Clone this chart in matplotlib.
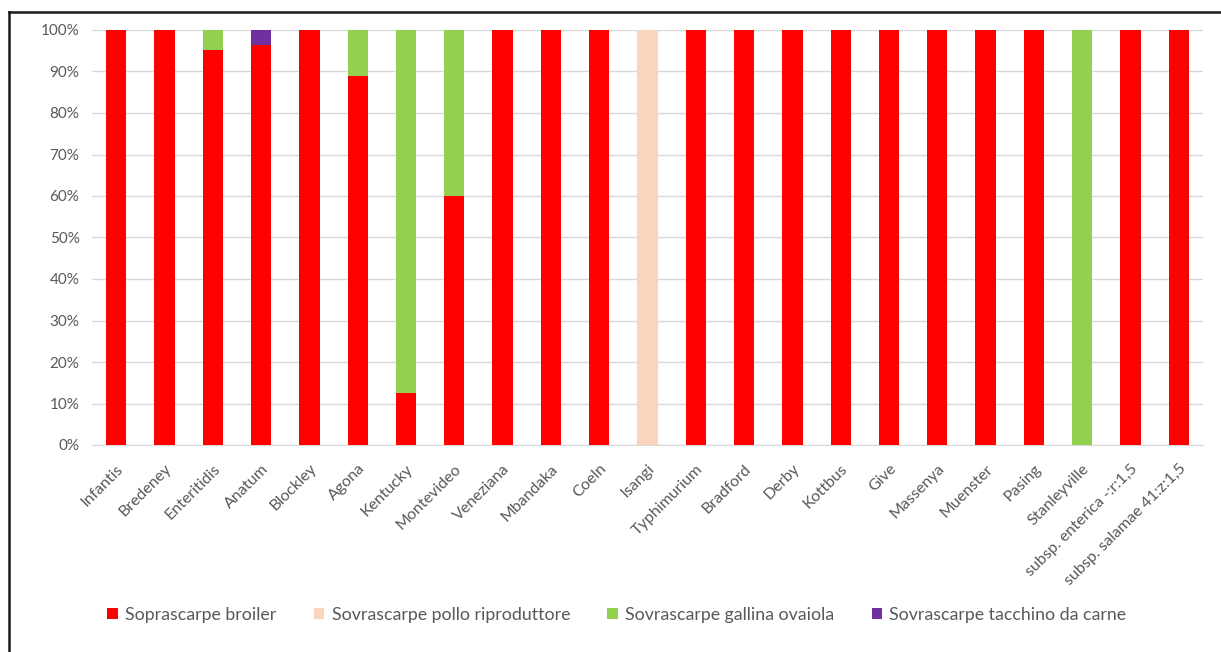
import matplotlib
matplotlib.use("Agg")
import matplotlib.pyplot as plt
from matplotlib.lines import Line2D
from matplotlib.patches import Patch
import numpy as np

plt.rcParams['font.family'] = ['Lato', 'DejaVu Sans']

categories = ["Infantis", "Bredeney", "Enteritidis", "Anatum", "Blockley", "Agona",
              "Kentucky", "Montevideo", "Veneziana", "Mbandaka", "Coeln", "Isangi",
              "Typhimurium", "Bradford", "Derby", "Kottbus", "Give", "Massenya",
              "Muenster", "Pasing", "Stanleyville", "subsp. enterica -:r:1,5",
              "subsp. salamae 41:z:1,5"]

series_names = ["Soprascarpe broiler", "Sovrascarpe pollo riproduttore",
                "Sovrascarpe gallina ovaiola", "Sovrascarpe tacchino da carne"]
broiler = [100, 100, 95.2, 96.4, 100, 88.9, 12.5, 60, 100, 100, 100, 0,
           100, 100, 100, 100, 100, 100, 100, 100, 0, 100, 100]
riproduttore = [0, 0, 0, 0, 0, 0, 0, 0, 0, 0, 0, 100,
                0, 0, 0, 0, 0, 0, 0, 0, 0, 0, 0]
ovaiola = [0, 0, 4.8, 0, 0, 11.1, 87.5, 40, 0, 0, 0, 0,
           0, 0, 0, 0, 0, 0, 0, 0, 100, 0, 0]
tacchino = [0, 0, 0, 3.6, 0, 0, 0, 0, 0, 0, 0, 0,
            0, 0, 0, 0, 0, 0, 0, 0, 0, 0, 0]
colors = ["#FF0000", "#FBD4BC", "#92D050", "#7030A0"]
yticks = [0, 10, 20, 30, 40, 50, 60, 70, 80, 90, 100]

fig = plt.figure(figsize=(12.21, 6.52), dpi=100)
ax = fig.add_axes([92/1221, 1-445/652, (1203-92)/1221, (445-30)/652])

n = len(categories)
x = np.arange(n)
bottom = np.zeros(n)
for vals, c in zip([broiler, riproduttore, ovaiola, tacchino], colors):
    v = np.array(vals, dtype=float)
    ax.bar(x, v, 0.42, bottom=bottom, color=c, linewidth=0, zorder=3)
    bottom += v

ax.set_xlim(-0.5, n-0.5)
ax.set_ylim(0, 100)
ax.set_yticks(yticks)
ax.set_yticklabels([f"{t}%" for t in yticks], fontsize=11, color="#595959")
ax.yaxis.grid(True, color="#D9D9D9", linewidth=1.0, zorder=0)
ax.set_axisbelow(True)
for s in ["top", "right", "left"]:
    ax.spines[s].set_visible(False)
ax.spines["bottom"].set_color("#D9D9D9")
ax.tick_params(axis="both", length=0)
ax.tick_params(axis="y", pad=9)
ax.set_xticks(x)
ax.set_xticklabels(categories, rotation=45, ha="right", va="top",
                   rotation_mode="anchor", fontsize=11.5, color="#595959")
ax.tick_params(axis="x", pad=12)

handles = [Patch(facecolor=c, linewidth=0) for c in colors]
fig.legend(handles, series_names, loc="center", bbox_to_anchor=(617/1221, 1-615/652),
           ncol=4, frameon=False, fontsize=12.8, labelcolor="#595959",
           handlelength=0.6, handleheight=0.6, handletextpad=0.4, columnspacing=2.1)

fig.add_artist(Line2D([9/1221, 9/1221], [0, 1-12/652], color="#1a1a1a", linewidth=1.8,
                      transform=fig.transFigure))
fig.add_artist(Line2D([9/1221, 1], [1-12/652, 1-12/652], color="#1a1a1a", linewidth=1.8,
                      transform=fig.transFigure))

fig.savefig("out.png", dpi=100)
